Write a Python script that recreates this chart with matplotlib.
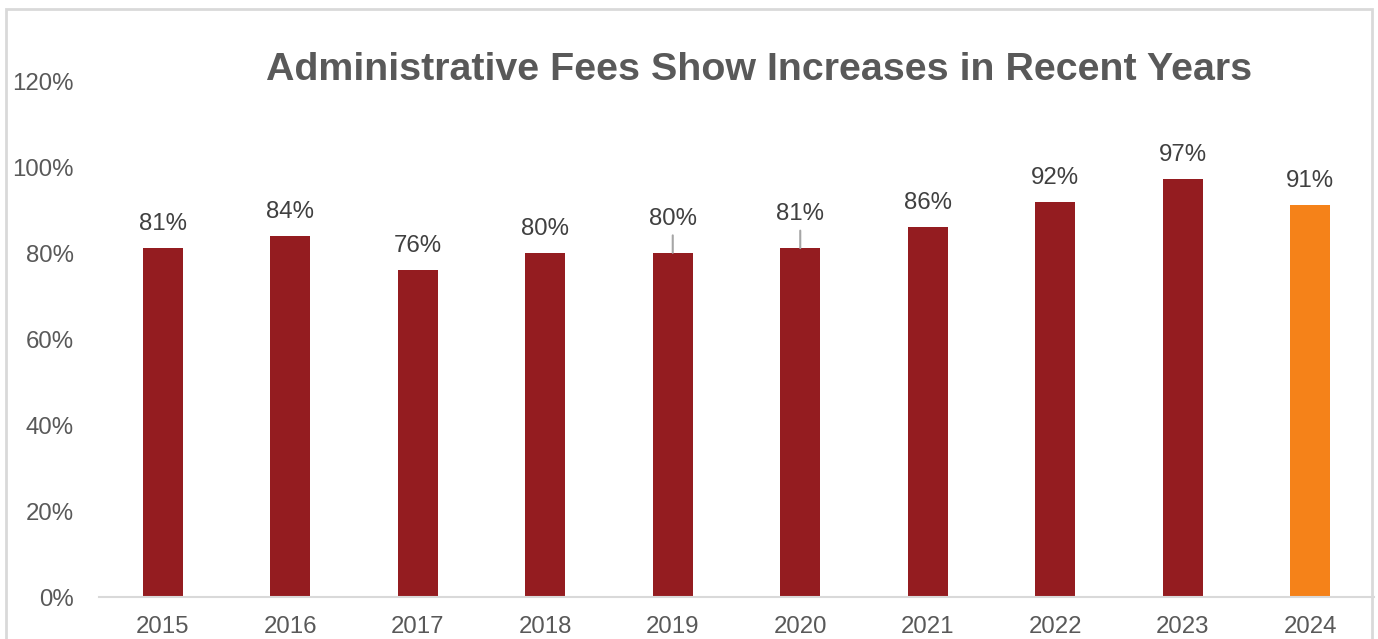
import matplotlib as mpl
mpl.use('Agg')
import matplotlib.pyplot as plt
from matplotlib.patches import Rectangle
from matplotlib.ticker import PercentFormatter

# values
years = ['2015', '2016', '2017', '2018', '2019', '2020', '2021', '2022', '2023', '2024']
fees = [0.813, 0.841, 0.762, 0.802, 0.802, 0.813, 0.862, 0.921, 0.974, 0.913]
highlight = '2024'
# labels that were pulled up with a leader line
leader_years = ['2019', '2020']

DARK_RED = '#941C20'
ORANGE = '#F58219'
GRAY_TEXT = '#595959'

plt.rcParams['font.family'] = ['Liberation Sans', 'DejaVu Sans']

W, H = 1378, 639
fig = plt.figure(figsize=(W / 100, H / 100), dpi=100)
ax = fig.add_axes([99 / W, (H - 597) / H, (1374 - 99) / W, (597 - 82) / H])

colors = [ORANGE if y == highlight else DARK_RED for y in years]
x = list(range(len(years)))
bars = ax.bar(x, fees, width=0.31, color=colors, zorder=2)

ax.set_ylim(0, 1.2)
ax.set_xlim(-0.5, len(years) - 0.5)
ax.set_yticks([0, 0.2, 0.4, 0.6, 0.8, 1.0, 1.2])
ax.yaxis.set_major_formatter(PercentFormatter(1.0, decimals=0))
ax.set_xticks(x)
ax.set_xticklabels(years)
ax.tick_params(axis='y', length=0, pad=18, labelsize=17.3, labelcolor=GRAY_TEXT)
ax.tick_params(axis='x', length=0, pad=14, labelsize=17.3, labelcolor=GRAY_TEXT)
for s in ['left', 'right', 'top']:
    ax.spines[s].set_visible(False)
ax.spines['bottom'].set_color('#D9D9D9')
ax.spines['bottom'].set_linewidth(1.5)

for xi, y, v in zip(x, years, fees):
    label = '%d%%' % round(v * 100)
    if y in leader_years:
        ax.annotate(label, xy=(xi, v), xytext=(0, 34 * 0.72), textcoords='offset points',
                    ha='center', va='center', fontsize=17.3, color='#404040',
                    arrowprops=dict(arrowstyle='-', color='#A6A6A6', lw=1.5,
                                    shrinkA=2, shrinkB=0))
    else:
        ax.annotate(label, xy=(xi, v), xytext=(0, 24 * 0.72), textcoords='offset points',
                    ha='center', va='center', fontsize=17.3, color='#404040')

fig.text(759.5 / W, 1 - 70 / H, 'Administrative Fees Show Increases in Recent Years',
         ha='center', va='center', fontsize=28.4, fontweight='bold', color=GRAY_TEXT)

# chart frame
fig.patches.append(Rectangle((6 / W, -0.05), (1372 - 6) / W, 1.05 - 9 / H,
                             transform=fig.transFigure, fill=False,
                             edgecolor='#D9D9D9', lw=2))

fig.savefig('out.png', dpi=100)
